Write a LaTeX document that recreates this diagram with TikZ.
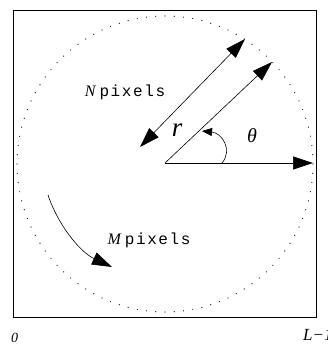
\documentclass[tikz,border=0pt]{standalone}
\usepackage{fontspec}
\newfontfamily\pixfont[LetterSpace=10]{Liberation Mono}
\newfontfamily\serifit{Liberation Serif}
\usetikzlibrary{arrows.meta}
\begin{document}
\begin{tikzpicture}[x=1pt,y=-1pt,
  bighead/.tip={Triangle[length=20pt,width=13pt]},
  big/.style={-bighead, line width=0.6pt},
  small/.style={-{Triangle[length=10pt,width=8pt]}, line width=0.6pt},
  lbl/.style={inner sep=0pt, font=\fontsize{16}{18}\selectfont}]
\useasboundingbox (0,0) rectangle (327,344);
\draw[line width=0.9pt] (13.5,10.5) rectangle (316,317);
\draw[line width=1.2pt, line cap=round, dash pattern=on 0pt off 9.3pt] (165,164) circle (148);
\coordinate (O) at (165,163);
\coordinate (E) at (313,163);
\coordinate (R) at (272,62);
\coordinate (A1) at (140,147);
\coordinate (A2) at (245,39);
\coordinate (S) at (222,163);
\coordinate (T) at (202,131);
\coordinate (M1) at (48,195);
\coordinate (M2) at (112,267);
\draw[big] (O) -- (E);
\draw[big] (O) -- (R);
\draw[big, bighead-bighead] (A1) -- (A2);
\draw[small] (S) .. controls (233,150) and (222,133) .. (T);
\draw[big] (M1) .. controls (58,225) and (80,252) .. (M2);
\node[inner sep=0pt, font=\fontsize{27}{29}\selectfont\serifit\itshape] (r) at (177,130) {r};
\node[inner sep=0pt, font=\fontsize{20}{22}\selectfont\serifit\itshape] (th) at (252,136) {θ};
\node[lbl] (N) at (125,92) {{\serifit\itshape N}\hspace{4pt}{\pixfont pixels}};
\node[lbl] (M) at (149,240) {{\serifit\itshape M}\hspace{4pt}{\pixfont pixels}};
\node[inner sep=0pt, anchor=base west, font=\fontsize{14}{16}\selectfont\serifit\itshape] (z) at (11,342) {0};
\node[inner sep=0pt, anchor=base west, font=\fontsize{17}{19}\selectfont\serifit\itshape] (L) at (303,340) {L\textminus 1};
\end{tikzpicture}
\end{document}
